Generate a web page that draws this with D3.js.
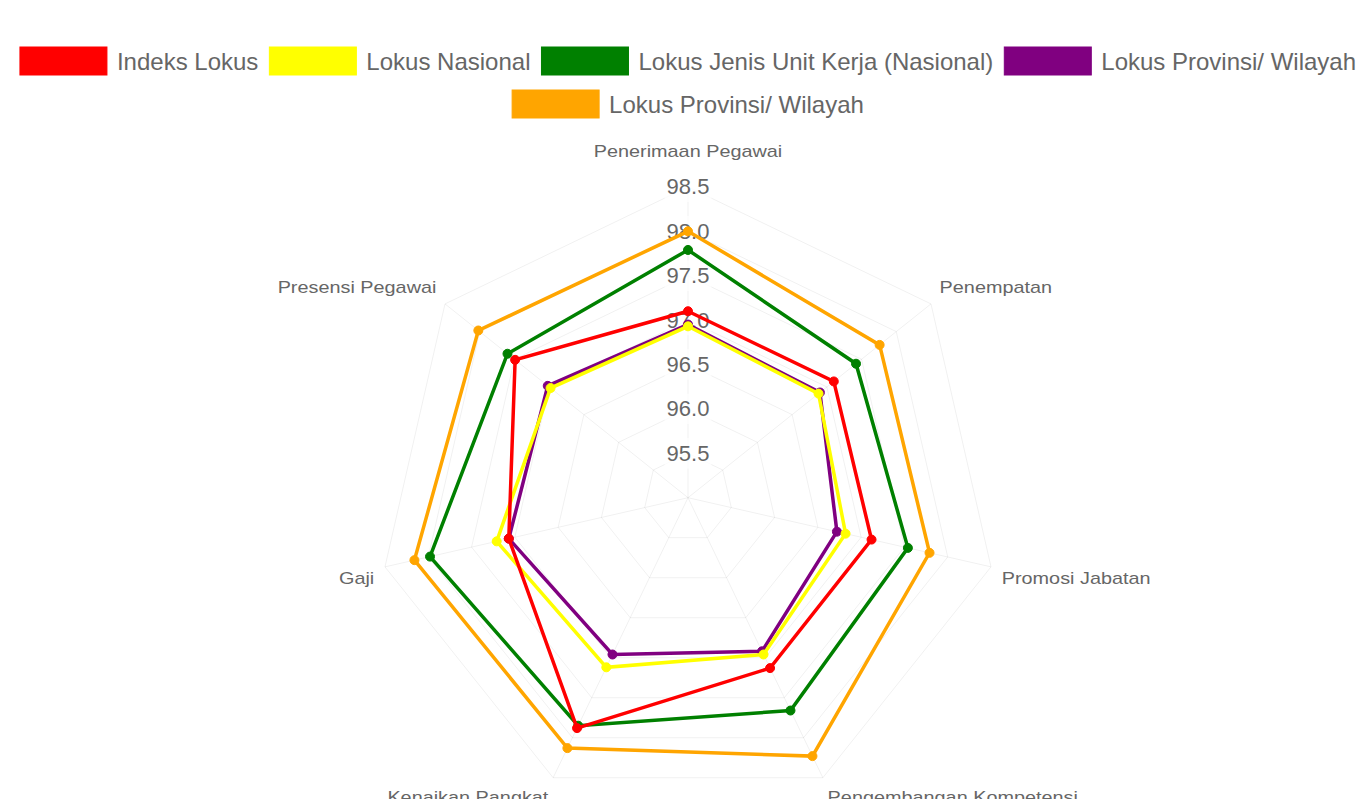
<!DOCTYPE html>
<html>
<head>
<meta charset="utf-8">
<script src="https://cdn.jsdelivr.net/npm/d3@7"></script>
<style>
  html, body { margin: 0; padding: 0; background: #ffffff; }
  svg { display: block; }
</style>
</head>
<body>
<div id="chart"></div>
<script>
// ---- data ----
const categories = ["Penerimaan Pegawai", "Penempatan", "Promosi Jabatan", "Pengembangan Kompetensi", "Kenaikan Pangkat", "Gaji", "Presensi Pegawai"];
const seriesNames = ["Indeks Lokus", "Lokus Nasional", "Lokus Jenis Unit Kerja (Nasional)", "Lokus Provinsi/ Wilayah", "Lokus Provinsi/ Wilayah"];
const indeksLokus      = [97.10, 97.10, 97.12, 97.13, 97.88, 97.07, 97.49];
const lokusNasional    = [96.93, 96.88, 96.82, 96.96, 97.12, 97.21, 96.98];
const lokusJenisUnit   = [97.79, 97.42, 97.54, 97.66, 97.85, 97.98, 97.60];
const lokusProvinsiA   = [96.95, 96.90, 96.72, 96.92, 96.96, 97.07, 97.02];
const lokusProvinsiB   = [98.00, 97.76, 97.79, 98.23, 98.13, 98.16, 98.02];
const tickValues = [95.5, 96.0, 96.5, 97.0, 97.5, 98.0, 98.5];
const scaleMin = 95.0, scaleMax = 98.5;

// ---- styles ----
const seriesColors = ["#ff0000", "#ffff00", "#008000", "#800080", "#ffa500"];
const seriesValues = [indeksLokus, lokusNasional, lokusJenisUnit, lokusProvinsiA, lokusProvinsiB];

const W = 1364, H = 799;
const cx = 688, cy = 497.7, R = 310.8;
const FONT = "'Liberation Sans', Arial, Helvetica, sans-serif";
const textColor = "#666666";
const gridColor = "rgba(0,0,0,0.06)";

const svg = d3.select("#chart").append("svg")
  .attr("width", W).attr("height", H)
  .attr("viewBox", `0 0 ${W} ${H}`);
svg.append("rect").attr("width", W).attr("height", H).attr("fill", "#fff");

const n = categories.length;
const angle = d3.scaleLinear().domain([0, n]).range([0, 2 * Math.PI]);
const r = d3.scaleLinear().domain([scaleMin, scaleMax]).range([0, R]);
const pt = (i, dist) => [cx + dist * Math.sin(angle(i)), cy - dist * Math.cos(angle(i))];

// ---- grid ----
const gGrid = svg.append("g");
const ringLine = d3.lineRadial()
  .angle((d, i) => angle(i))
  .radius(d => r(d))
  .curve(d3.curveLinearClosed);
gGrid.selectAll("path.ring").data(tickValues).enter().append("path")
  .attr("class", "ring")
  .attr("transform", `translate(${cx},${cy})`)
  .attr("d", v => ringLine(categories.map(() => v)))
  .attr("fill", "none").attr("stroke", gridColor).attr("stroke-width", 1);
gGrid.selectAll("line.spoke").data(categories).enter().append("line")
  .attr("class", "spoke")
  .attr("x1", cx).attr("y1", cy)
  .attr("x2", (d, i) => pt(i, r(scaleMax))[0])
  .attr("y2", (d, i) => pt(i, r(scaleMax))[1])
  .attr("stroke", gridColor).attr("stroke-width", 1);

// ---- point labels ----
const plSize = 16, plStretch = 1.24, plH = plSize * 1.2;
const gPL = svg.append("g");
categories.forEach((c, i) => {
  const deg = angle(i) * 180 / Math.PI;
  const extra = i === 0 ? 14.6 : 0;
  const [px, py] = pt(i, R + 11 + extra);
  let anchor = "middle";
  if (Math.abs(deg) < 0.01 || Math.abs(deg - 180) < 0.01) anchor = "middle";
  else if (deg < 180) anchor = "start";
  else anchor = "end";
  let yc = py;
  if (Math.abs(deg - 90) < 0.01 || Math.abs(deg - 270) < 0.01) yc = py;
  else if (deg > 270 || deg < 90) yc = py - plH / 2;
  else yc = py + plH / 2;
  gPL.append("text")
    .attr("transform", `translate(${px},${yc}) scale(${plStretch},1)`)
    .attr("text-anchor", anchor)
    .attr("dominant-baseline", "central")
    .attr("font-family", FONT).attr("font-size", plSize)
    .attr("fill", textColor)
    .text(c);
});

// ---- tick labels ----
const tkSize = 22;
const fmt = d3.format(".1f");
const gTicks = svg.append("g");
tickValues.forEach(v => {
  const y = cy - r(v);
  const g = gTicks.append("g");
  const rect = g.append("rect").attr("fill", "rgba(255,255,255,0.75)");
  const t = g.append("text")
    .attr("x", cx).attr("y", y)
    .attr("text-anchor", "middle").attr("dominant-baseline", "central")
    .attr("font-family", FONT).attr("font-size", tkSize)
    .attr("fill", textColor)
    .text(fmt(v));
  const w = t.node().getComputedTextLength();
  const h = tkSize * 1.2 + 4;
  rect.attr("x", cx - w / 2 - 2).attr("y", y - h / 2).attr("width", w + 4).attr("height", h);
});

// ---- datasets (first dataset drawn on top) ----
const gData = svg.append("g").attr("transform", `translate(${cx},${cy})`);
const dataLine = d3.lineRadial()
  .angle((d, i) => angle(i))
  .radius(d => r(d))
  .curve(d3.curveLinearClosed);
for (let s = seriesValues.length - 1; s >= 0; s--) {
  const vals = seriesValues[s];
  const g = gData.append("g");
  g.append("path")
    .attr("d", dataLine(vals))
    .attr("fill", "none")
    .attr("stroke", seriesColors[s])
    .attr("stroke-width", 3.5)
    .attr("stroke-linejoin", "miter");
  g.selectAll("circle").data(vals).enter().append("circle")
    .attr("cx", (d, i) => r(d) * Math.sin(angle(i)))
    .attr("cy", (d, i) => -r(d) * Math.cos(angle(i)))
    .attr("r", 4.5)
    .attr("fill", seriesColors[s])
    .attr("stroke", seriesColors[s]).attr("stroke-width", 1);
}

// ---- legend ----
const lgSize = 24, boxW = 87, boxH = 28, boxGap = 10, itemGap = 11;
const maxRowW = W - 10;
const rowCenters = [61, 104];
const gLeg = svg.append("g");
const items = seriesNames.map((name, s) => {
  const g = gLeg.append("g");
  g.append("rect").attr("width", boxW).attr("height", boxH)
    .attr("y", -boxH / 2)
    .attr("fill", seriesColors[s]).attr("stroke", seriesColors[s]).attr("stroke-width", 1);
  const t = g.append("text")
    .attr("x", boxW + boxGap).attr("y", 0)
    .attr("dominant-baseline", "central")
    .attr("font-family", FONT).attr("font-size", lgSize)
    .attr("fill", textColor)
    .text(name);
  const w = boxW + boxGap + t.node().getComputedTextLength();
  return { g, w };
});
const rows = [[]];
let cur = 0;
items.forEach(it => {
  const add = rows[rows.length - 1].length ? itemGap + it.w : it.w;
  if (cur + add > maxRowW && rows[rows.length - 1].length) {
    rows.push([it]); cur = it.w;
  } else {
    rows[rows.length - 1].push(it); cur += add;
  }
});
rows.forEach((row, ri) => {
  const total = d3.sum(row, d => d.w) + itemGap * (row.length - 1);
  let x = cx - total / 2;
  const y = rowCenters[ri] !== undefined ? rowCenters[ri] : rowCenters[0] + ri * 43;
  row.forEach(it => {
    it.g.attr("transform", `translate(${x},${y})`);
    x += it.w + itemGap;
  });
});
</script>
</body>
</html>
